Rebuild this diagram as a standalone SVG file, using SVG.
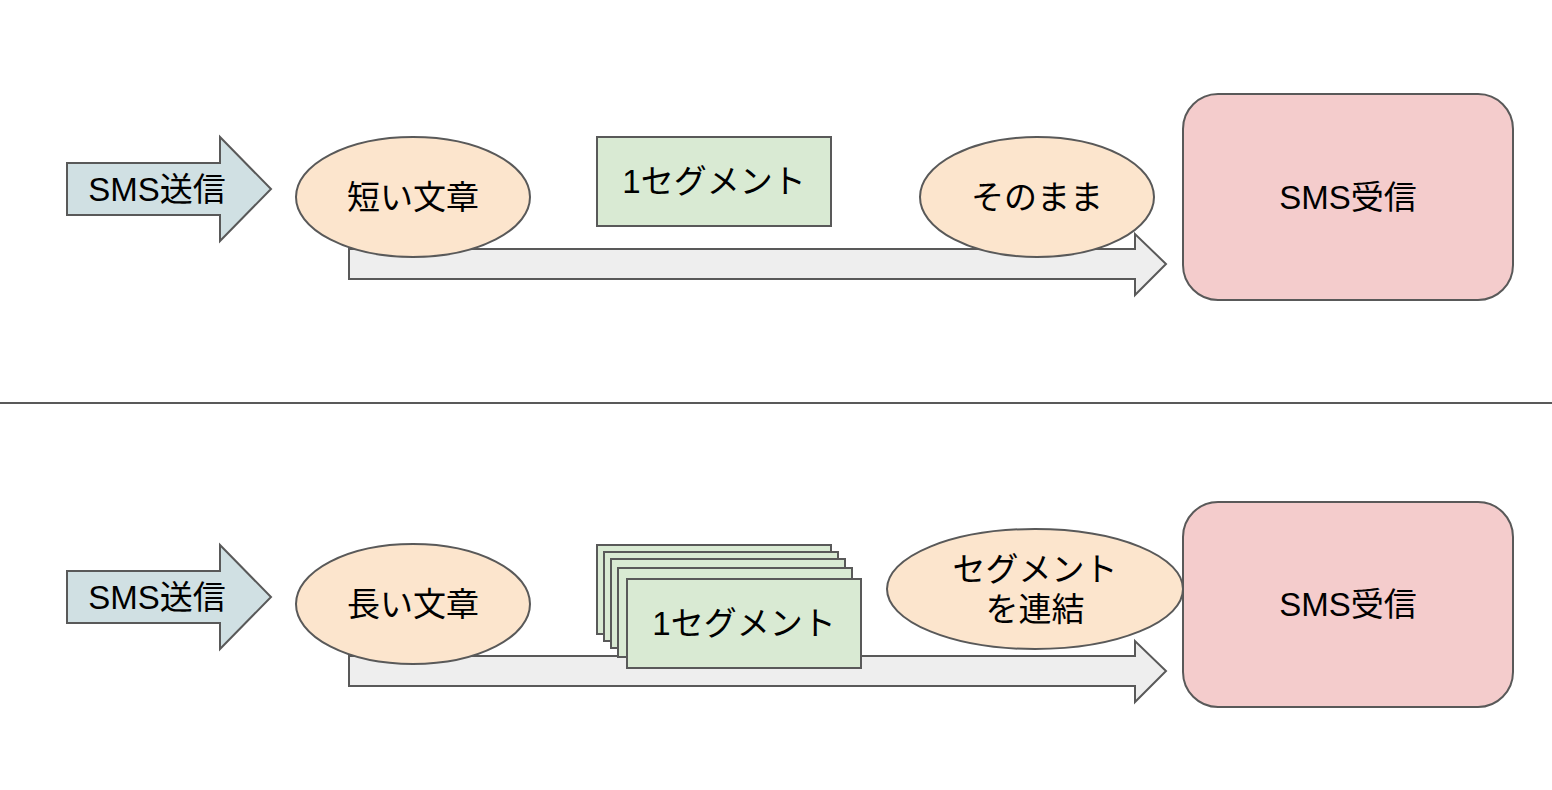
<svg xmlns="http://www.w3.org/2000/svg" width="1552" height="790" viewBox="0 0 1552 790">
<style>
.s{stroke:#595959;stroke-width:2}
.send{fill:#d0e0e3}
.flow{fill:#eeeeee}
.ell{fill:#fce5cd}
.seg{fill:#d9ead3}
.recv{fill:#f4cccc}
text{font-family:"Liberation Sans","Noto Sans CJK JP",sans-serif;font-size:33px;fill:#000;text-anchor:middle;dominant-baseline:central}
</style>
<rect width="1552" height="790" fill="#fff"/>
<line x1="0" y1="403" x2="1552" y2="403" stroke="#595959" stroke-width="2"/>
<g id="connectors">
<path class="s flow" d="M349,249 H1135 V234 L1166,264 L1135,295 V279 H349 Z"/>
<path class="s flow" d="M349,656 H1135 V641 L1166,671 L1135,702 V686 H349 Z"/>
</g>
<g id="send1"><path class="s send" d="M67,163 H220 V137 L271,189 L220,241 V215 H67 Z"/><text x="157" y="189">SMS送信</text></g>
<g id="short"><ellipse class="s ell" cx="413" cy="197" rx="117" ry="60"/><text x="413" y="197">短い文章</text></g>
<g id="seg1"><rect class="s seg" x="597" y="137" width="234" height="89"/><text x="714" y="181">1セグメント</text></g>
<g id="asis"><ellipse class="s ell" cx="1037" cy="197" rx="117" ry="60"/><text x="1037" y="197">そのまま</text></g>
<g id="recv1"><rect class="s recv" x="1183" y="94" width="330" height="206" rx="35"/><text x="1348" y="197">SMS受信</text></g>
<g id="send2"><path class="s send" d="M67,571 H220 V545 L271,597 L220,649 V623 H67 Z"/><text x="157" y="597">SMS送信</text></g>
<g id="long"><ellipse class="s ell" cx="413" cy="604" rx="117" ry="60"/><text x="413" y="604">長い文章</text></g>
<g id="segs">
<rect class="s seg" x="597" y="545" width="234" height="89"/>
<rect class="s seg" x="604" y="552" width="234" height="89"/>
<rect class="s seg" x="611" y="559" width="234" height="89"/>
<rect class="s seg" x="618" y="568" width="234" height="89"/>
<rect class="s seg" x="627" y="579" width="234" height="89"/>
<text x="744" y="623">1セグメント</text>
</g>
<g id="concat"><ellipse class="s ell" cx="1035" cy="589" rx="148" ry="60"/><text x="1035" y="569">セグメント</text><text x="1035" y="609">を連結</text></g>
<g id="recv2"><rect class="s recv" x="1183" y="502" width="330" height="205" rx="35"/><text x="1348" y="604">SMS受信</text></g>
</svg>
